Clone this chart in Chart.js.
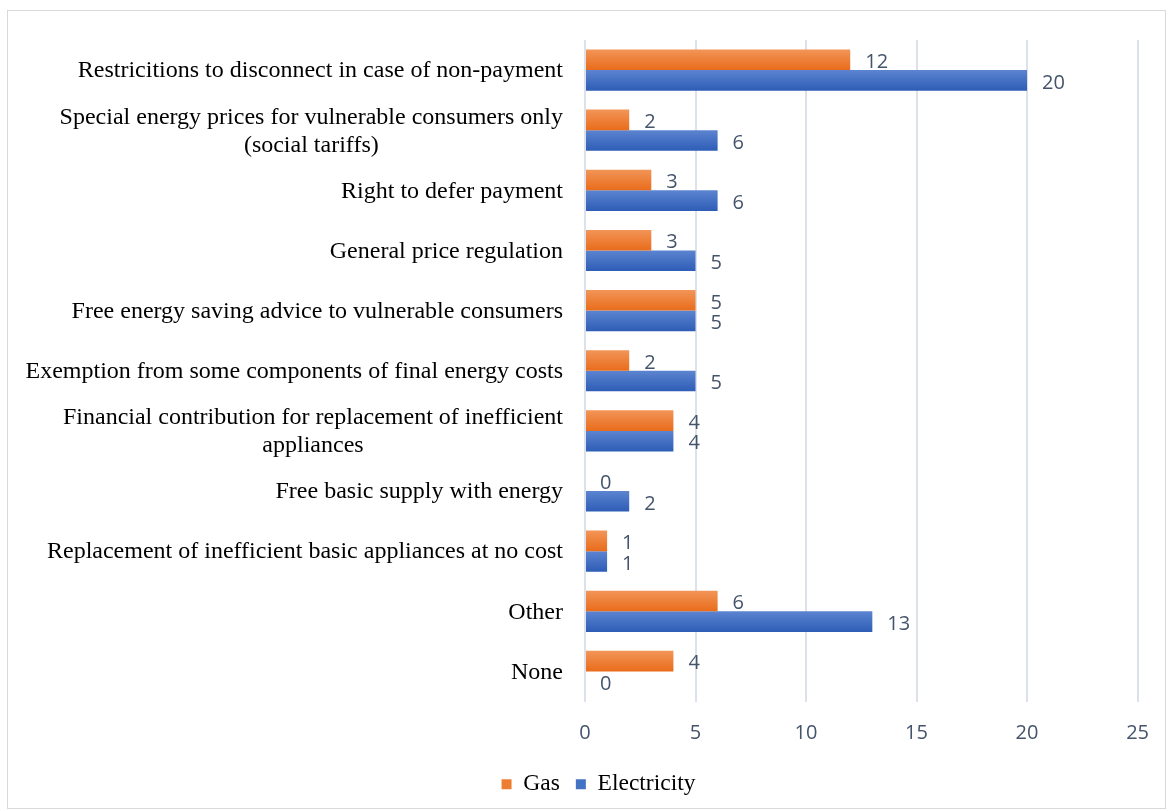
<!DOCTYPE html>
<html>
<head>
<meta charset="utf-8">
<script src="https://cdn.jsdelivr.net/npm/chart.js@4.4.1/dist/chart.umd.min.js"></script>
<style>
  html, body { margin: 0; padding: 0; background: #fff; }
  #frame { position: absolute; left: 7px; top: 10px; width: 1157px; height: 797px; border: 1px solid #d9d9d9; pointer-events: none; }
  canvas { position: absolute; left: 0; top: 0; }
</style>
</head>
<body>
<canvas id="measuresChart" width="1169" height="811"></canvas>
<div id="frame"></div>
<script>
// categories, top to bottom (each entry = lines of the label)
const categories = [
    ['Restricitions to disconnect in case of non-payment'],
    ['Special energy prices for vulnerable consumers only', '(social tariffs)'],
    ['Right to defer payment'],
    ['General price regulation'],
    ['Free energy saving advice to vulnerable consumers'],
    ['Exemption from some components of final energy costs'],
    ['Financial contribution for replacement of inefficient', 'appliances'],
    ['Free basic supply with energy'],
    ['Replacement of inefficient basic appliances at no cost'],
    ['Other'],
    ['None']
];
const gasValues = [12, 2, 3, 3, 5, 2, 4, 0, 1, 6, 4];
const electricityValues = [20, 6, 6, 5, 5, 5, 4, 2, 1, 13, 0];
const xTicks = [0, 5, 10, 15, 20, 25];

const labelColor = '#44546A';

// vertical gradient on every bar, light at the top
const barGradient = {
    id: 'barGradient',
    beforeDatasetsDraw(chart) {
        const ctx = chart.ctx;
        chart.data.datasets.forEach((ds, di) => {
            chart.getDatasetMeta(di).data.forEach(bar => {
                const top = bar.y - bar.height / 2;
                const g = ctx.createLinearGradient(0, top, 0, top + bar.height);
                g.addColorStop(0, ds.gradTop);
                g.addColorStop(1, ds.gradBottom);
                bar.options = Object.assign({}, bar.options, { backgroundColor: g });
            });
        });
    }
};

// value labels right of each bar
const valueLabels = {
    id: 'valueLabels',
    afterDatasetsDraw(chart) {
        const ctx = chart.ctx;
        ctx.save();
        ctx.font = '20px "Open Sans"';
        ctx.fillStyle = labelColor;
        ctx.textAlign = 'left';
        ctx.textBaseline = 'middle';
        chart.data.datasets.forEach((ds, di) => {
            chart.getDatasetMeta(di).data.forEach((bar, i) => {
                ctx.fillText(String(ds.data[i]), bar.x + 15, bar.y + 2.5);
            });
        });
        ctx.restore();
    }
};

// category names: block right aligned, lines centred inside the block
const categoryLabels = {
    id: 'categoryLabels',
    afterDraw(chart) {
        const ctx = chart.ctx;
        const yScale = chart.scales.y;
        const rightX = 563;
        const lineGap = 28;
        ctx.save();
        ctx.font = '24px "Liberation Serif"';
        ctx.fillStyle = '#000';
        ctx.textAlign = 'center';
        ctx.textBaseline = 'middle';
        categories.forEach((lines, i) => {
            const y = yScale.getPixelForValue(i) + 1;
            const blockW = Math.max(...lines.map(l => ctx.measureText(l).width));
            const cx = rightX - blockW / 2;
            lines.forEach((l, k) => {
                ctx.fillText(l, cx, y + (k - (lines.length - 1) / 2) * lineGap);
            });
        });
        ctx.restore();
    }
};

const ctx = document.getElementById('measuresChart').getContext('2d');
new Chart(ctx, {
    type: 'bar',
    data: {
        labels: categories.map(c => c.join(' ')),
        datasets: [{
            label: 'Gas',
            data: gasValues,
            backgroundColor: '#ED7D31',
            gradTop: '#F29558',
            gradBottom: '#E96C1B',
            categoryPercentage: 0.685,
            barPercentage: 1
        }, {
            label: 'Electricity',
            data: electricityValues,
            backgroundColor: '#4472C4',
            gradTop: '#5C84D0',
            gradBottom: '#2E5DB6',
            categoryPercentage: 0.685,
            barPercentage: 1
        }]
    },
    options: {
        indexAxis: 'y',
        responsive: false,
        animation: false,
        layout: {
            padding: { top: 40, right: 29, left: 57, bottom: 5 }
        },
        plugins: {
            tooltip: { enabled: false },
            legend: {
                position: 'bottom',
                labels: {
                    boxWidth: 10,
                    boxHeight: 10,
                    padding: 16,
                    color: '#000',
                    font: { family: 'Liberation Serif', size: 23.5 }
                }
            }
        },
        scales: {
            x: {
                min: 0,
                max: 25,
                afterBuildTicks: s => { s.ticks = xTicks.map(v => ({ value: v })); },
                afterFit: s => { s.height = 55; },
                grid: { color: '#DDE2EA', lineWidth: 2, drawTicks: false },
                border: { display: false },
                ticks: {
                    padding: 20,
                    color: labelColor,
                    font: { family: 'Open Sans', size: 20 }
                }
            },
            y: {
                afterFit: s => { s.width = 528; },
                grid: { display: false },
                border: { display: false },
                ticks: { display: false }
            }
        }
    },
    plugins: [barGradient, valueLabels, categoryLabels]
});
</script>
</body>
</html>
